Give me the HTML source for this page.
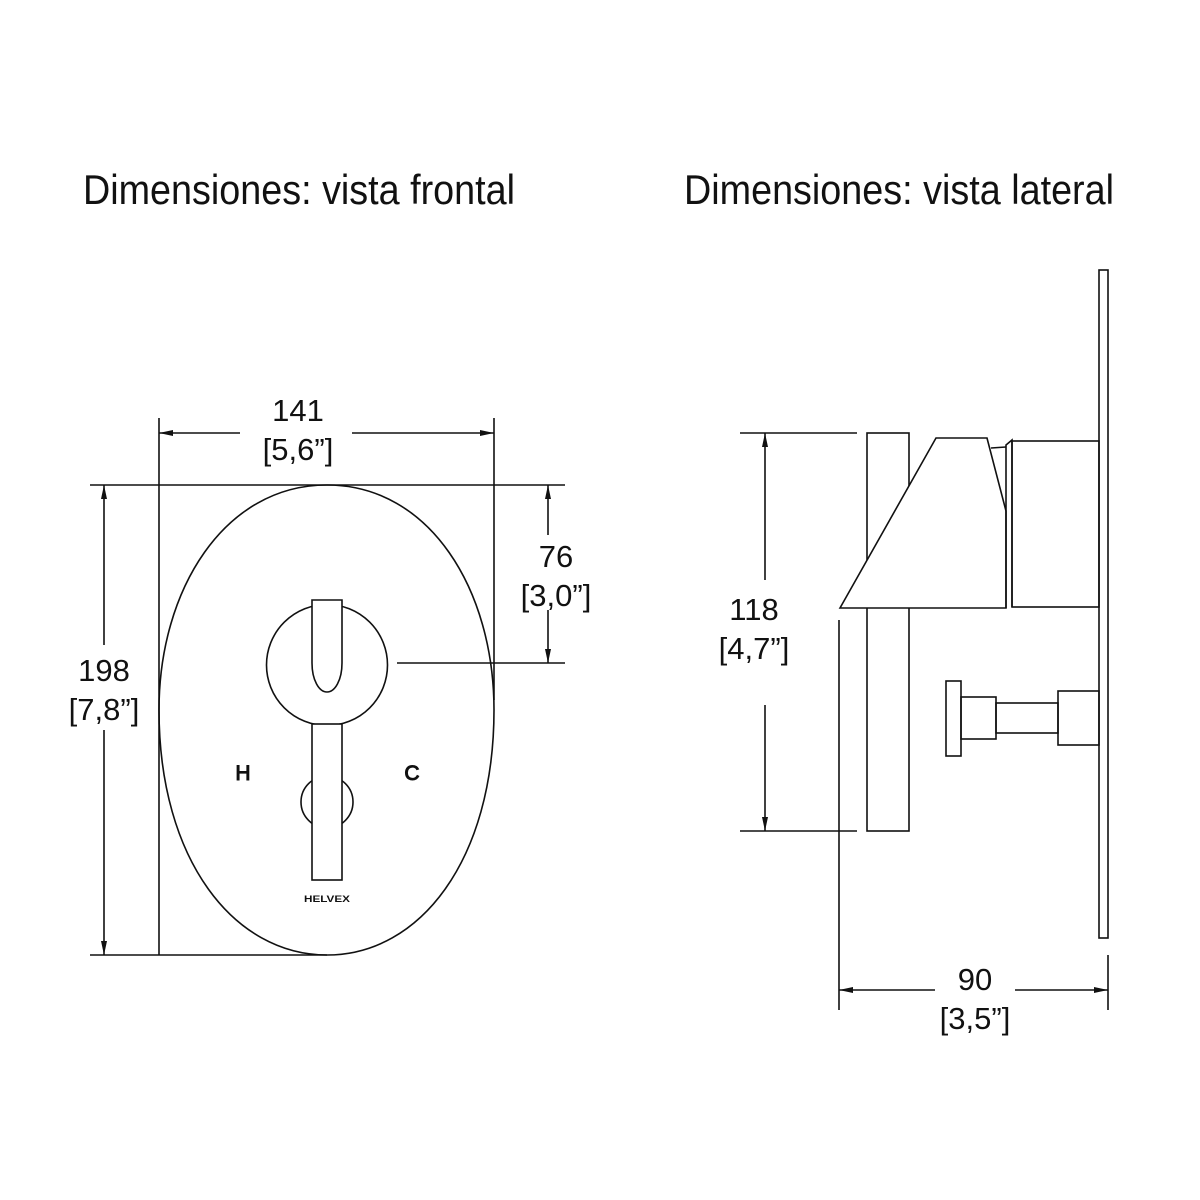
<!DOCTYPE html>
<html><head><meta charset="utf-8"><style>
html,body{margin:0;padding:0;background:#fff;width:1200px;height:1200px;overflow:hidden}
svg text{font-family:"Liberation Sans",sans-serif;fill:#111}
</style></head><body>
<svg width="1200" height="1200" viewBox="0 0 1200 1200" xmlns="http://www.w3.org/2000/svg">
<defs>
<marker id="a" viewBox="0 0 14 8" refX="14" refY="4" markerWidth="14" markerHeight="8" markerUnits="userSpaceOnUse" orient="auto-start-reverse"><path d="M0,1 L14,4 L0,7z" fill="#111"/></marker>
</defs>
<text x="83" y="204" font-size="42" textLength="432" lengthAdjust="spacingAndGlyphs">Dimensiones: vista frontal</text>
<text x="684" y="204" font-size="42" textLength="430" lengthAdjust="spacingAndGlyphs">Dimensiones: vista lateral</text>

<g stroke="#111" fill="none" stroke-width="1.6">
<path d="M327,485 C430,485 494,590 494,710 C494,860 420,955 327,955 C234,955 159,860 159,710 C159,590 224,485 327,485Z"/>
<line x1="159" y1="418" x2="159" y2="955"/>
<line x1="494" y1="418" x2="494" y2="700"/>
<line x1="90" y1="485" x2="565" y2="485"/>
<line x1="90" y1="955" x2="327" y2="955"/>
<line x1="397" y1="663" x2="565" y2="663"/>
<line x1="240" y1="433" x2="159" y2="433" marker-end="url(#a)"/>
<line x1="352" y1="433" x2="494" y2="433" marker-end="url(#a)"/>
<line x1="104" y1="645" x2="104" y2="485" marker-end="url(#a)"/>
<line x1="104" y1="730" x2="104" y2="955" marker-end="url(#a)"/>
<line x1="548" y1="535" x2="548" y2="485" marker-end="url(#a)"/>
<line x1="548" y1="610" x2="548" y2="663" marker-end="url(#a)"/>
<circle cx="327" cy="665" r="60.5"/>
<path d="M312,600 L342,600 L342,663 C342,680 335,692 327,692 C319,692 312,680 312,663 Z" fill="#fff"/>
<circle cx="327" cy="802" r="26"/>
<rect x="312" y="724" width="30" height="156" fill="#fff"/>

<rect x="1099" y="270" width="9" height="668"/>
<rect x="867" y="433" width="42" height="398"/>
<path d="M840,608 L936,438 L987,438 L1006,511 L1006,608 Z" fill="#fff"/>
<path d="M991,448 L1006,447"/>
<path d="M1006,608 L1006,445 L1012,440 L1012,607"/>
<rect x="1012" y="441" width="87" height="166"/>
<rect x="946" y="681" width="15" height="75"/>
<rect x="961" y="697" width="35" height="42"/>
<rect x="996" y="703" width="62" height="30"/>
<rect x="1058" y="691" width="41" height="54"/>
<line x1="740" y1="433" x2="857" y2="433"/>
<line x1="740" y1="831" x2="857" y2="831"/>
<line x1="839" y1="620" x2="839" y2="1010"/>
<line x1="1108" y1="955" x2="1108" y2="1010"/>
<line x1="765" y1="580" x2="765" y2="433" marker-end="url(#a)"/>
<line x1="765" y1="705" x2="765" y2="831" marker-end="url(#a)"/>
<line x1="935" y1="990" x2="839" y2="990" marker-end="url(#a)"/>
<line x1="1015" y1="990" x2="1108" y2="990" marker-end="url(#a)"/>
</g>

<g font-size="31" text-anchor="middle">
<text x="298" y="421">141</text>
<text x="298" y="460">[5,6”]</text>
<text x="104" y="681">198</text>
<text x="104" y="720">[7,8”]</text>
<text x="556" y="567">76</text>
<text x="556" y="606">[3,0”]</text>
<text x="754" y="620">118</text>
<text x="754" y="659">[4,7”]</text>
<text x="975" y="990">90</text>
<text x="975" y="1029">[3,5”]</text>
</g>
<g font-size="21" text-anchor="middle" style="fill:#555" stroke="#111" stroke-width="1">
<text x="243" y="780">H</text>
<text x="412" y="780">C</text>
</g>
<text x="327" y="902" font-size="9" font-weight="bold" text-anchor="middle" textLength="46" lengthAdjust="spacingAndGlyphs">HELVEX</text>
</svg>
</body></html>
